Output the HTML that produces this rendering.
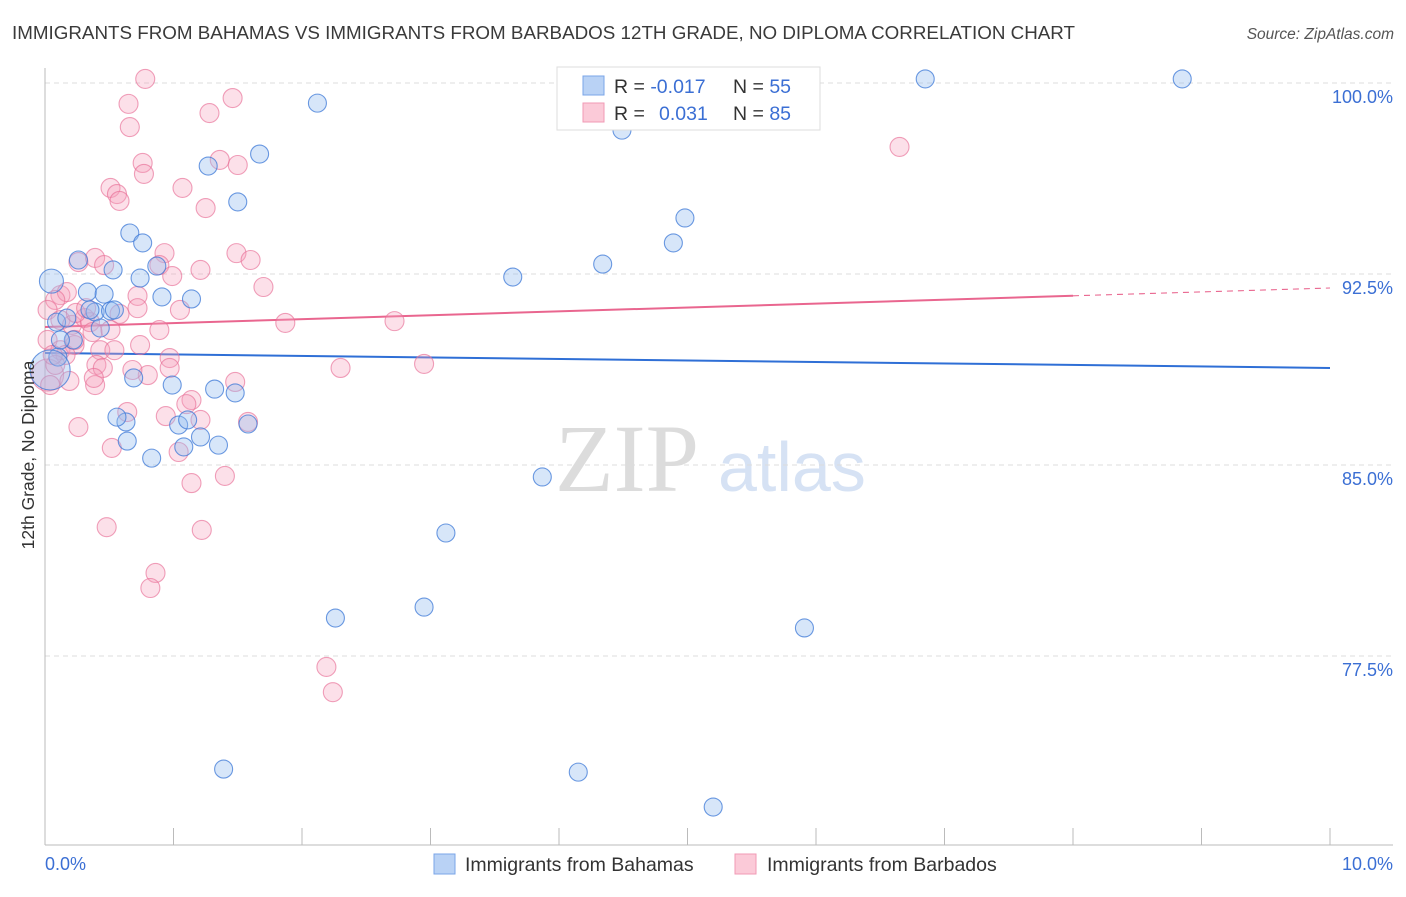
<!DOCTYPE html>
<html><head><meta charset="utf-8"><style>
body{margin:0;background:#fff;font-family:"Liberation Sans",sans-serif;}
svg text{font-family:"Liberation Sans",sans-serif;}
</style></head><body>
<svg id="chart" width="1406" height="892">
<text x="12" y="39" font-size="18" fill="#3a3a3a" textLength="1063" lengthAdjust="spacingAndGlyphs">IMMIGRANTS FROM BAHAMAS VS IMMIGRANTS FROM BARBADOS 12TH GRADE, NO DIPLOMA CORRELATION CHART</text>
<text x="1394" y="39" font-size="15.5" fill="#555" font-style="italic" text-anchor="end">Source: ZipAtlas.com</text>
<text x="555" y="491" font-size="96" fill="#dcdcdc" style="font-family:'Liberation Serif',serif">ZIP</text>
<text x="718" y="491" font-size="70" fill="#d6e2f4">atlas</text>
<g id="grid"></g>
<g id="axes"></g>
<g id="trend"></g>
<g id="pts"></g>
<text transform="translate(34,455) rotate(-90)" font-size="17.5" fill="#333" text-anchor="middle">12th Grade, No Diploma</text>
<text x="45" y="870" font-size="18" fill="#3b6fd4">0.0%</text>
<text x="1393" y="870" font-size="18" fill="#3b6fd4" text-anchor="end">10.0%</text>
<g>
<rect x="557" y="67" width="263" height="63" fill="#fff" stroke="#ddd"/>
<rect x="583" y="76" width="21" height="19" fill="#b9d2f5" stroke="#7aa5e8"/>
<rect x="583" y="103" width="21" height="19" fill="#fbcad8" stroke="#f09ab5"/>
<text x="614" y="93" font-size="19.5" fill="#333">R = <tspan fill="#3b6fd4">-0.017</tspan></text>
<text x="733" y="93" font-size="19.5" fill="#333">N = <tspan fill="#3b6fd4">55</tspan></text>
<text x="614" y="120" font-size="19.5" fill="#333">R = </text>
<text x="659" y="120" font-size="19.5" fill="#3b6fd4">0.031</text>
<text x="733" y="120" font-size="19.5" fill="#333">N = <tspan fill="#3b6fd4">85</tspan></text>
</g>
<g>
<rect x="434" y="854" width="21" height="20" fill="#b9d2f5" stroke="#7aa5e8"/>
<text x="465" y="871" font-size="19.5" fill="#333">Immigrants from Bahamas</text>
<rect x="735" y="854" width="21" height="20" fill="#fbcad8" stroke="#f09ab5"/>
<text x="767" y="871" font-size="19.5" fill="#333">Immigrants from Barbados</text>
</g>
</svg>
<script>
const yTicks=[100,92.5,85,77.5];
const yTickLabels=["100.0%","92.5%","85.0%","77.5%"];
const xTicks=[0,1,2,3,4,5,6,7,8,9,10];
const blueX=[0.05,0.10,0.09,0.17,0.26,0.33,0.39,0.46,0.43,0.51,0.53,0.66,0.76,0.74,0.91,1.14,0.87,0.69,0.99,1.32,1.48,1.58,1.21,1.08,1.04,1.35,1.11,0.83,0.63,0.56,0.64,1.27,1.50,1.67,2.12,1.39,2.26,2.95,3.12,3.87,4.15,5.20,5.91,4.34,3.64,4.49,4.89,4.98,6.85,8.85,0.04,0.22,0.35,0.12,0.54];
const blueY=[92.22,89.24,90.61,90.77,93.05,91.79,91.01,91.71,90.38,91.05,92.66,94.11,93.72,92.34,91.60,91.52,92.81,88.42,88.14,87.98,87.83,86.61,86.10,85.71,86.57,85.78,86.77,85.27,86.69,86.88,85.94,96.74,95.33,97.21,99.21,73.06,78.99,79.42,82.33,84.53,72.94,71.57,78.60,92.89,92.38,98.15,93.72,94.70,100.16,100.16,88.73,89.91,91.09,89.91,91.09];
const pinkX=[0.78,0.65,0.66,1.28,1.46,0.76,0.77,0.51,0.56,0.58,1.07,1.25,1.36,1.50,0.93,0.89,0.99,1.49,1.60,1.70,1.21,0.26,0.39,0.46,0.12,0.17,0.08,0.02,0.12,0.21,0.31,0.35,0.58,0.72,0.72,1.05,0.89,1.87,2.72,0.02,0.12,0.23,0.43,0.54,0.40,0.45,0.80,0.97,1.48,2.30,2.95,0.02,0.19,0.39,0.38,0.64,0.94,1.14,1.10,1.04,1.58,0.26,0.52,1.14,1.40,0.48,1.22,0.86,0.82,2.19,2.24,6.65,0.24,0.32,0.37,0.68,0.51,0.16,0.23,0.08,0.04,0.06,0.97,0.74,1.21];
const pinkY=[100.16,99.18,98.27,98.82,99.41,96.86,96.43,95.88,95.64,95.37,95.88,95.09,96.98,96.78,93.32,92.85,92.42,93.32,93.05,91.99,92.66,92.97,93.13,92.85,91.67,91.79,91.48,91.09,90.69,90.50,90.77,90.61,90.93,91.64,91.16,91.09,90.30,90.58,90.65,89.91,89.51,89.71,89.51,89.51,88.93,88.81,88.53,89.20,88.26,88.81,88.97,88.53,88.30,88.14,88.42,87.08,86.92,87.55,87.39,85.51,86.69,86.49,85.67,84.29,84.57,82.56,82.45,80.76,80.17,77.07,76.08,97.49,90.97,91.16,90.22,88.73,90.30,89.32,89.91,88.93,88.14,89.32,88.81,89.71,86.77];
const blueTrend=[89.40,88.81];
const pinkTrend=[90.42,91.95];
const X0=45,X1=1330,Ytop=83,Ybot=465;
function sx(v){return X0+(v/10)*(X1-X0);}
function sy(v){return Ytop+(100-v)/(100-85)*(Ybot-Ytop);}
const NS="http://www.w3.org/2000/svg";
function mk(tag,attrs,parent){const e=document.createElementNS(NS,tag);for(const k in attrs)e.setAttribute(k,attrs[k]);parent.appendChild(e);return e;}
const grid=document.getElementById('grid'),axes=document.getElementById('axes'),trend=document.getElementById('trend'),pts=document.getElementById('pts');
yTicks.forEach((t,i)=>{
 const l=mk('line',{x1:X0,x2:1393,y1:sy(t),y2:sy(t),stroke:'#dcdcdc','stroke-dasharray':'5,4'},grid);
 
 
 const tx=mk('text',{x:1393,y:sy(t)+20,'font-size':18,fill:'#3b6fd4','text-anchor':'end'},grid);
 tx.textContent=yTickLabels[i];
 
 
});
const ya=mk('line',{x1:X0,x2:X0,y1:68,y2:845,stroke:'#bbb'},axes);


const xa=mk('line',{x1:X0,x2:1393,y1:845,y2:845,stroke:'#bbb'},axes);


xTicks.forEach(t=>{
 const l=mk('line',{x1:sx(t),x2:sx(t),y1:828,y2:845,stroke:'#bbb'},axes);
 
 
});
const bt=mk('line',{x1:sx(0),x2:sx(10),y1:sy(blueTrend[0]),y2:sy(blueTrend[1]),stroke:'#2f6fd6','stroke-width':2},trend);


const pMid=pinkTrend[0]+(pinkTrend[1]-pinkTrend[0])*0.8;
const pt=mk('line',{x1:sx(0),x2:sx(8),y1:sy(pinkTrend[0]),y2:sy(pMid),stroke:'#e9668f','stroke-width':2},trend);


const pd=mk('line',{x1:sx(8),x2:sx(10),y1:sy(pMid),y2:sy(pinkTrend[1]),stroke:'#e9668f','stroke-width':1.1,'stroke-dasharray':'6,5'},trend);


pinkX.forEach((x,i)=>{
 const r=(i===51)?16:9.5;
 const c=mk('circle',{cx:sx(x),cy:sy(pinkY[i]),r:r,fill:'rgba(247,160,188,0.33)',stroke:'rgba(232,110,150,0.65)','stroke-width':1.1},pts);
 
 
});
blueX.forEach((x,i)=>{
 const r=(i===50)?20:(i===0?12:9);
 const c=mk('circle',{cx:sx(x),cy:sy(blueY[i]),r:r,fill:'rgba(150,190,240,0.38)',stroke:'rgba(60,120,215,0.75)','stroke-width':1.1},pts);
 
 
});
</script>
</body></html>
